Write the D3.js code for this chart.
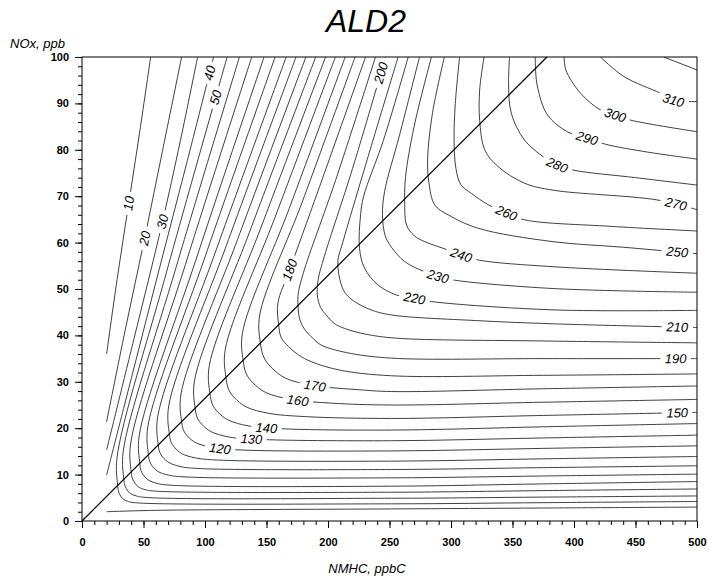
<!DOCTYPE html>
<html>
<head>
<meta charset="utf-8">
<script src="https://cdn.jsdelivr.net/npm/d3@7/dist/d3.min.js"></script>
<style>
body { margin: 0; background: #fff; }
text { font-family: "Liberation Sans", Arial, sans-serif; }
</style>
</head>
<body>
<svg id="chart" width="708" height="579"></svg>
<script>
// contour levels (one entry per drawn line piece)
var levels = [10, 20, 30, 40, 40, 50, 60, 70, 80, 90, 100, 110, 120, 130, 140, 150, 160,
              170, 180, 190, 200, 210, 220, 230, 240, 250, 260, 270, 280, 290, 300, 310, 320];

// isopleth points, [NMHC ppbC, NOx ppb]
var isoLines = [
  [[55.8,100],[47,84],[38,68.5],[28.5,52],[20,36]],
  [[81,100],[66,80.5],[51,61],[35,41],[20,21.4]],
  [[94,100],[80,82],[65,64],[42,39],[20,15.3]],
  [[107,100],[85,77],[63,54.5],[41,31.7],[20,9.9]],
  [[20,2],[60,2.3],[251.6,2.6],[375,2.8],[500,3]],
  [[118,100],[69,53.9],[28.5,13.7],[29,7.7],[29.6,6.5],[30.7,5.7],[33.1,4.8],[37.7,4.2],[45,3.9],[251.6,3.7],[375,3.95],[500,4.2]],
  [[128,100],[76.3,54.5],[33.5,15],[34,9],[34.7,7.8],[36,7],[38.8,6],[44.2,5.4],[52.7,5.06],[251.6,4.9],[375,5.15],[500,5.4]],
  [[138,100],[84.1,55.3],[39.5,16.6],[40,10.6],[40.8,9.3],[42.4,8.4],[45.6,7.4],[52,6.7],[62,6.4],[251.6,6.2],[375,6.55],[500,6.9]],
  [[148,100],[92.5,56.2],[46.5,18.4],[47,12.4],[47.9,10.9],[49.8,9.95],[53.6,8.9],[61.1,8.1],[72.9,7.7],[251.6,7.5],[375,8],[500,8.5]],
  [[157,100],[100.4,57.2],[53.5,20.3],[54,14.3],[55.1,12.8],[57.2,11.8],[61.6,10.7],[70.2,9.9],[83.7,9.5],[251.6,9.3],[375,9.7],[500,10.1]],
  [[166,100],[108.8,58.2],[61.5,22.4],[62,16.4],[63.2,14.8],[65.7,13.75],[70.7,12.6],[80.6,11.7],[96.1,11.3],[251.6,11.1],[375,11.5],[500,11.9]],
  [[174,100],[117.4,59.4],[70.5,24.8],[71,18.8],[72.4,17],[75.3,15.85],[80.9,14.55],[92.3,13.6],[110,13.14],[251.6,12.9],[375,13.4],[500,13.9]],
  [[182,100],[126.5,60.7],[80.5,27.4],[81,21.4],[82.6,19.5],[85.9,18.25],[92.3,16.9],[105.3,15.9],[125.6,15.35],[251.6,15.1],[375,15.65],[500,16.2]],
  [[190,100],[136.1,62.2],[91.5,30.3],[92,24.3],[93.8,22.2],[97.5,20.8],[104.9,19.26],[119.6,18.1],[142.6,17.6],[251.6,17.3],[375,17.9],[500,18.5]],
  [[198,100],[146.3,63.8],[103.5,33.5],[104,27.5],[106.1,25.1],[110.2,23.55],[118.6,21.8],[135.2,20.5],[161.2,19.9],[251.6,19.6],[375,20.3],[500,21]],
  [[206,100],[157,65.5],[116.5,37],[117,31],[119.3,28.3],[124,26.55],[133.4,24.6],[152.1,23.2],[181.4,22.5],[251.6,22.1],[375,22.75],[500,23.4]],
  [[214,100],[168.4,67.3],[130.5,40.6],[131,34.6],[133.6,31.7],[138.9,29.8],[149.3,27.7],[170.3,26.2],[203,25.4],[251.6,25],[375,25.6],[500,26.2]],
  [[222,100],[179.7,69.2],[144.5,44.4],[145,38.4],[147.9,35.25],[153.7,33.15],[165.3,30.8],[188.5,29.2],[224.8,28.3],[251.6,27.9],[375,28.5],[500,29.1]],
  [[230.5,100],[192,71.2],[168.8,54.1],[159.3,47],[159.8,42.5],[162,39.5],[167.9,37.6],[176,35.8],[186.7,34.3],[210,32.5],[251.6,31.3],[375,31.4],[500,31.7]],
  [[238.6,100],[206,73.3],[180,53.5],[175.8,49],[175.6,46.6],[177,43.5],[181,41.3],[188,39.3],[194.6,37.9],[215,36.3],[251.6,35.1],[375,35],[500,35]],
  [[246.8,100],[220,76],[197,57],[192,52],[191.3,48.7],[194,46],[198.6,44.4],[205,42.6],[213.5,41.5],[230,40.3],[255.7,39.4],[375,38.8],[500,38.4]],
  [[257,100],[232,78],[212,60],[208,55.9],[210.8,50.9],[215,48.8],[221.6,47.3],[235,45.5],[251.6,44.4],[320,43.2],[383,42.5],[500,41.7]],
  [[265.2,100],[245,82],[229,70],[226.5,66],[225.6,58.8],[229.7,54.5],[240.5,50.9],[255.7,48.7],[270.5,48],[284,47.3],[383,45.5],[500,45.4]],
  [[274.4,100],[258,83],[246,71],[244.3,66],[246.5,61.5],[251.6,59],[262.4,55.9],[278.7,53.7],[289.5,52.7],[303,51.9],[383,50.1],[500,49.3]],
  [[284.1,100],[270,85],[263,74],[262.4,68.1],[263.8,63.8],[270,61.5],[278.7,60.2],[297.6,58.4],[308.4,57.3],[323.3,56.2],[383,54.8],[500,53.4]],
  [[294.6,100],[285,88],[281,78],[282,73],[286.8,68.1],[297.6,66],[322,63.1],[383,60.2],[440,59],[500,57.6]],
  [[307,100],[303.5,90],[302.5,82],[304,76],[308,72.5],[316.6,70.6],[330,68.2],[345,66.4],[360,64.9],[430,63.5],[500,62.5]],
  [[326.9,100],[323.3,92.9],[323.3,86.4],[327.4,80],[338.2,76.4],[359.8,72.8],[383,71.3],[467.5,69.2],[500,67.1]],
  [[347.6,100],[346.8,94.3],[349,87.9],[359.8,82.1],[378.8,77.8],[386.4,76.7],[400,75.6],[450,74],[500,72.4]],
  [[368.5,100],[370,94],[378.5,87.5],[394.5,83.9],[410.7,82.5],[425.6,81.2],[460,79.5],[500,78]],
  [[392,100],[393.4,97.2],[405.3,92.2],[421.5,88.6],[433.7,87.5],[445.9,86.4],[500,83.9]],
  [[421.5,100],[440.5,95.8],[470.2,92.2],[481,90.7],[500,90.4]],
  [[473,100],[500,97.2]]
];

// inline contour labels: which line piece, and roughly where on it
var labelPiece = [0, 1, 2, 3, 5, 18, 20, 31, 30, 29, 28, 27, 26, 25, 24, 23, 22, 21, 19, 17, 16, 15, 14, 13, 12];
var labelAt = [[37.3,68.5],[50.9,60.9],[65.7,64.5],[104.5,96.5],[110.4,91.2],[168.8,54.1],[244,96.5],
               [481,90.7],[433.7,87.5],[410.7,82.5],[386.4,76.7],[482,67.2],[345,66.4],[483.8,57.7],
               [308.4,57.3],[289.5,52.7],[270.5,48],[483.8,41.8],[482.4,35],[189,28.9],[175.3,25.5],
               [483.8,23.3],[150,19.6],[137.7,17.3],[111.8,14.7]];

var ridge = [[0, 0], [378, 100]];
var xTicksMajor = [0, 50, 100, 150, 200, 250, 300, 350, 400, 450, 500];
var yTicksMajor = [0, 10, 20, 30, 40, 50, 60, 70, 80, 90, 100];

var W = 708, H = 579;
var svg = d3.select("#chart");
var x = d3.scaleLinear().domain([0, 500]).range([82, 697]);
var y = d3.scaleLinear().domain([0, 100]).range([521, 57]);

var defs = svg.append("defs");
defs.append("clipPath").attr("id", "plotclip")
  .append("rect").attr("x", 82).attr("y", 57).attr("width", 615).attr("height", 464);

// title and axis names
svg.append("text").attr("x", 366).attr("y", 32).attr("text-anchor", "middle")
  .style("font-size", "32px").style("font-style", "italic").text("ALD2");
svg.append("text").attr("x", 10).attr("y", 48)
  .style("font-size", "13px").style("font-style", "italic").text("NOx, ppb");
svg.append("text").attr("x", 367).attr("y", 573).attr("text-anchor", "middle")
  .style("font-size", "13px").style("font-style", "italic").text("NMHC, ppbC");

// axes: minor ticks then major ticks with labels
var gx = svg.append("g").attr("transform", "translate(0,521)");
gx.call(d3.axisBottom(x).tickValues(d3.range(0, 501, 10)).tickSize(4).tickFormat(""));
gx.append("g").call(d3.axisBottom(x).tickValues(xTicksMajor).tickSize(7).tickPadding(10));
var gy = svg.append("g").attr("transform", "translate(82,0)");
gy.call(d3.axisLeft(y).tickValues(d3.range(0, 101, 2)).tickSize(4).tickFormat(""));
gy.append("g").call(d3.axisLeft(y).tickValues(yTicksMajor).tickSize(7).tickPadding(6));
svg.selectAll(".domain").remove();
svg.selectAll(".tick line").attr("stroke", "#000");
svg.selectAll(".tick text").style("font-size", "11px").style("font-weight", "bold")
  .style("font-family", "'Liberation Sans', Arial, sans-serif").attr("fill", "#000");

// isopleths
var line = d3.line().x(function(d){ return x(d[0]); }).y(function(d){ return y(d[1]); })
  .curve(d3.curveCatmullRom.alpha(0.5));
var gc = svg.append("g").attr("clip-path", "url(#plotclip)");
var paths = [];
for (var i = 0; i < isoLines.length; i++) {
  paths.push(gc.append("path").attr("d", line(isoLines[i]))
    .attr("fill", "none").attr("stroke", "#2a2a2a").attr("stroke-width", 0.9));
}

// find spot on a path nearest to the wanted label position
function spotOnPath(node, px, py) {
  var len = node.getTotalLength(), best = 0, bestD = Infinity;
  for (var s = 0; s <= len; s += 0.5) {
    var p = node.getPointAtLength(s);
    var d = (p.x - px) * (p.x - px) + (p.y - py) * (p.y - py);
    if (d < bestD) { bestD = d; best = s; }
  }
  var p0 = node.getPointAtLength(Math.max(0, best - 5));
  var p1 = node.getPointAtLength(Math.min(len, best + 5));
  var a = Math.atan2(p1.y - p0.y, p1.x - p0.x) * 180 / Math.PI;
  if (a > 90) a -= 180;
  if (a < -90) a += 180;
  var pm = node.getPointAtLength(best);
  return { x: pm.x, y: pm.y, a: a };
}

var gl = svg.append("g");
var gaps = {};
for (var k = 0; k < labelPiece.length; k++) {
  var pi = labelPiece[k];
  var sp = spotOnPath(paths[pi].node(), x(labelAt[k][0]), y(labelAt[k][1]));
  var t = gl.append("text").attr("text-anchor", "middle").attr("dy", "0.35em")
    .attr("transform", "translate(" + sp.x + "," + sp.y + ") rotate(" + sp.a + ")")
    .style("font-size", "13px").style("font-style", "italic").text(levels[pi]);
  var bw = t.node().getBBox().width + 8;
  if (!gaps[pi]) gaps[pi] = [];
  gaps[pi].push({ x: sp.x, y: sp.y, a: sp.a, w: bw });
}
Object.keys(gaps).forEach(function(pi) {
  var m = defs.append("mask").attr("id", "gap" + pi).attr("maskUnits", "userSpaceOnUse")
    .attr("x", 0).attr("y", 0).attr("width", W).attr("height", H);
  m.append("rect").attr("width", W).attr("height", H).attr("fill", "#fff");
  gaps[pi].forEach(function(g) {
    m.append("rect").attr("x", -g.w / 2).attr("y", -6).attr("width", g.w).attr("height", 12)
      .attr("fill", "#000")
      .attr("transform", "translate(" + g.x + "," + g.y + ") rotate(" + g.a + ")");
  });
  paths[+pi].attr("mask", "url(#gap" + pi + ")");
});

// ridge line
svg.append("line").attr("x1", x(ridge[0][0])).attr("y1", y(ridge[0][1]))
  .attr("x2", x(ridge[1][0])).attr("y2", y(ridge[1][1]))
  .attr("stroke", "#000").attr("stroke-width", 1.2);

// frame
svg.append("rect").attr("x", 82).attr("y", 57).attr("width", 615).attr("height", 464)
  .attr("fill", "none").attr("stroke", "#000").attr("stroke-width", 1);
</script>
</body>
</html>
